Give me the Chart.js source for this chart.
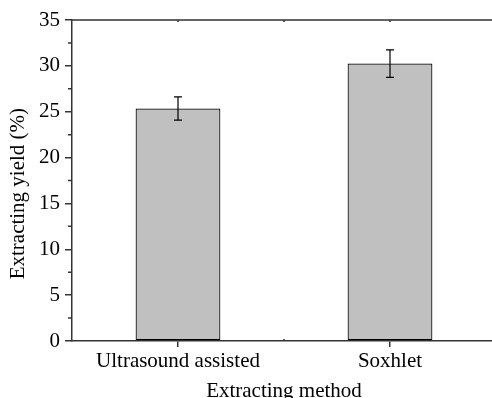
<!DOCTYPE html>
<html>
<head>
<meta charset="utf-8">
<script src="https://cdn.jsdelivr.net/npm/chart.js@4/dist/chart.umd.min.js"></script>
<style>
  html, body { margin: 0; padding: 0; background: #fff; overflow: hidden; }
  #wrap { position: absolute; left: 0; top: 0; width: 496px; height: 404px; }
</style>
</head>
<body>
<div id="wrap"><canvas id="yieldChart"></canvas></div>
<script>
// extraction yield per method, with error bars
const methods = ['Ultrasound assisted', 'Soxhlet'];
const yieldValues = [25.35, 30.25];
const yieldErrors = [1.26, 1.5];
const yTicks = [0, 5, 10, 15, 20, 25, 30, 35];

const AXIS = '#333';
const FONT = { family: '"Liberation Serif", "Times New Roman", serif', size: 21 };

// error bars, top frame line and the small minor ticks
const frameAndErrors = {
    id: 'frameAndErrors',
    afterDatasetsDraw(chart) {
        const { ctx, chartArea: a, scales: { x, y } } = chart;
        const meta = chart.getDatasetMeta(0);
        ctx.save();
        ctx.strokeStyle = '#000';
        ctx.lineWidth = 1.2;
        meta.data.forEach((bar, i) => {
            const top = y.getPixelForValue(yieldValues[i] + yieldErrors[i]);
            const bot = y.getPixelForValue(yieldValues[i] - yieldErrors[i]);
            ctx.beginPath();
            ctx.moveTo(bar.x, top); ctx.lineTo(bar.x, bot);
            ctx.moveTo(bar.x - 4, top); ctx.lineTo(bar.x + 4, top);
            ctx.moveTo(bar.x - 4, bot); ctx.lineTo(bar.x + 4, bot);
            ctx.stroke();
        });

        ctx.strokeStyle = AXIS;
        ctx.lineWidth = 1.5;
        ctx.beginPath();
        ctx.moveTo(a.left, a.top); ctx.lineTo(a.right, a.top);
        // minor y ticks (outside)
        for (let v = 2.5; v < 35; v += 5) {
            const py = y.getPixelForValue(v);
            ctx.moveTo(a.left - 4, py); ctx.lineTo(a.left, py);
        }
        // top ticks at categories, and the mid tick top/bottom
        methods.forEach((m, i) => {
            const px = x.getPixelForValue(i);
            ctx.moveTo(px, a.top); ctx.lineTo(px, a.top + 2);
        });
        const mid = (x.getPixelForValue(0) + x.getPixelForValue(1)) / 2;
        ctx.moveTo(mid, a.top); ctx.lineTo(mid, a.top + 2);
        ctx.moveTo(mid, a.bottom); ctx.lineTo(mid, a.bottom - 2);
        ctx.stroke();
        ctx.restore();
    }
};

new Chart(document.getElementById('yieldChart'), {
    type: 'bar',
    data: {
        labels: methods,
        datasets: [{
            data: yieldValues,
            backgroundColor: '#c0c0c0',
            borderColor: '#000',
            borderWidth: 1.2,
            borderSkipped: false,
            barPercentage: 0.8,
            categoryPercentage: 0.5,
        }],
    },
    options: {
        responsive: true,
        maintainAspectRatio: false,
        animation: false,
        layout: { padding: { top: 20, right: 0, bottom: 0, left: 0 } },
        plugins: { legend: { display: false }, tooltip: { enabled: false } },
        scales: {
            x: {
                offset: true,
                grid: { drawOnChartArea: false, color: AXIS, lineWidth: 1.5, tickLength: 6, offset: false },
                border: { color: AXIS, width: 1.5 },
                ticks: { color: '#000', font: FONT, padding: 2, maxRotation: 0 },
                title: { display: true, text: 'Extracting method', color: '#000', font: FONT, padding: { top: 0, bottom: 0 } },
                afterFit: (s) => { s.height = 63; },
            },
            y: {
                min: 0,
                max: 35,
                afterBuildTicks: (s) => { s.ticks = yTicks.map(v => ({ value: v })); },
                grid: { drawOnChartArea: false, color: AXIS, lineWidth: 1.5, tickLength: 7 },
                border: { color: AXIS, width: 1.5 },
                ticks: { color: '#000', font: FONT, padding: 5 },
                title: { display: true, text: 'Extracting yield (%)\u00a0\u00a0\u00a0\u00a0\u00a0', color: '#000', font: FONT, padding: { top: 6, bottom: 0 } },
                afterFit: (s) => { s.width = 72; },
            },
        },
    },
    plugins: [frameAndErrors],
});
</script>
</body>
</html>
